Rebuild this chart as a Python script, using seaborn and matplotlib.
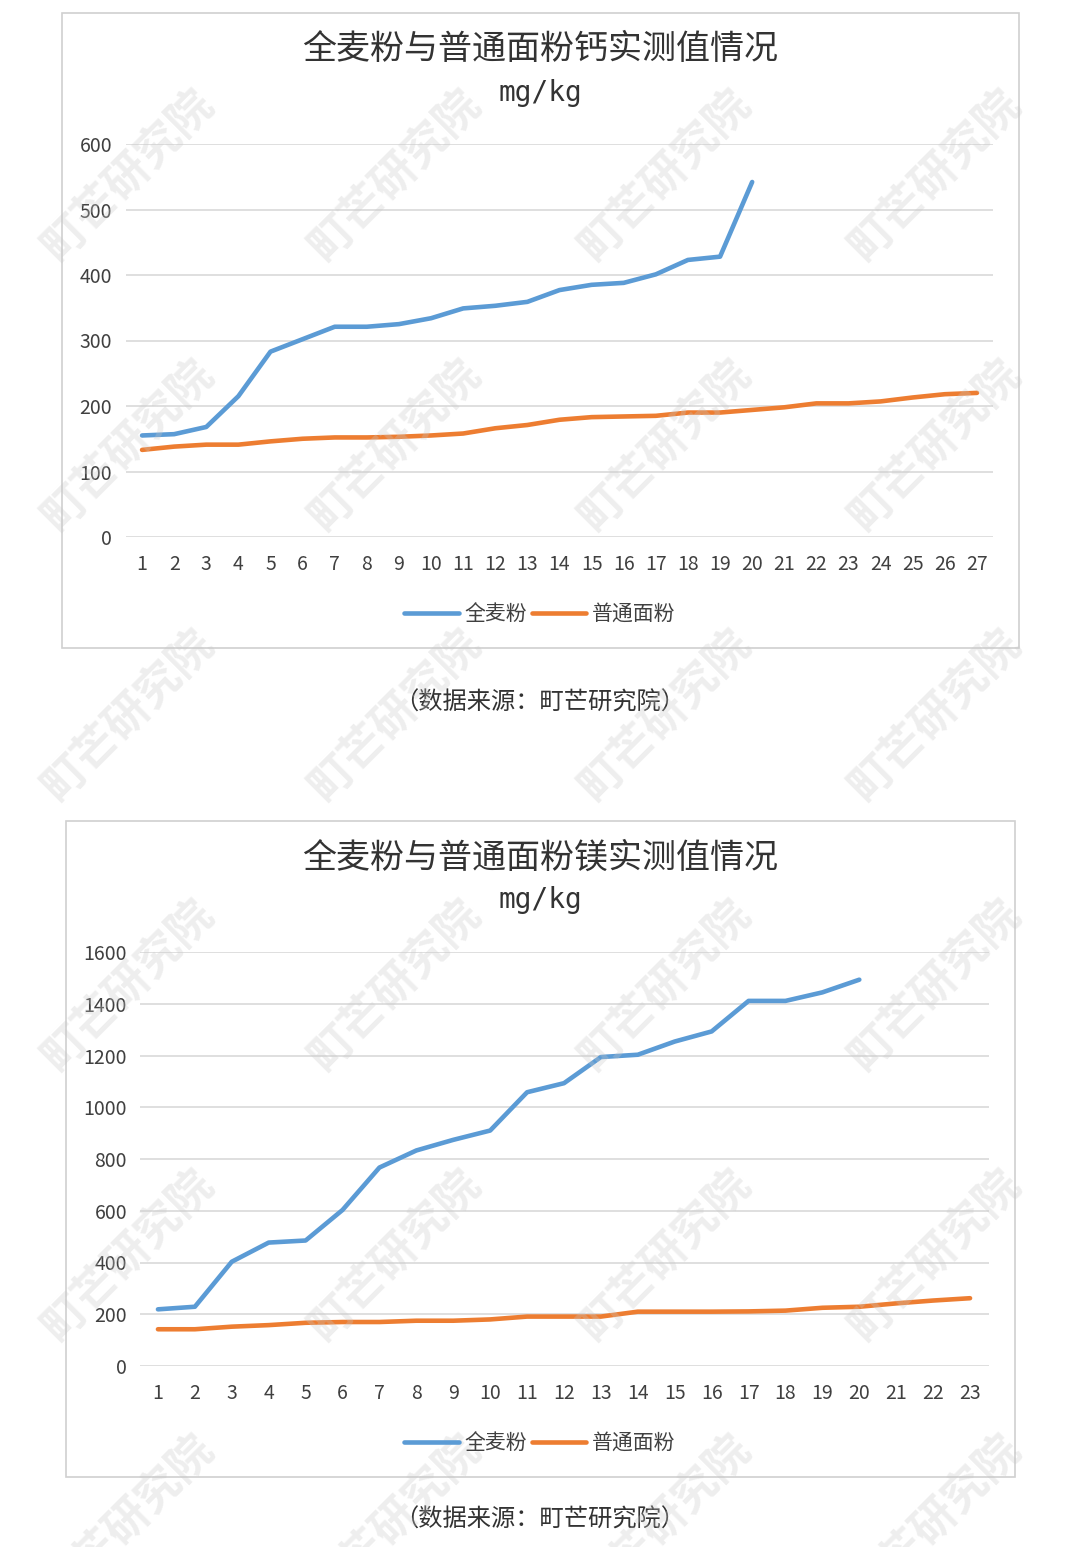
import numpy as np
import pandas as pd
import matplotlib
matplotlib.use("Agg")
import matplotlib.pyplot as plt
import seaborn as sns
from matplotlib.patches import Rectangle

# calcium data (mg/kg)
ca_whole = [155, 157, 168, 215, 283, 302, 321, 321, 325, 334, 349, 353, 359, 377,
            385, 388, 401, 423, 428, 542]
ca_plain = [133, 138, 141, 141, 146, 150, 152, 152, 153, 155, 158, 166, 171, 179,
            183, 184, 185, 190, 190, 194, 198, 204, 204, 207, 213, 218, 220]

# magnesium data (mg/kg)
mg_whole = [219, 229, 403, 477, 485, 603, 767, 833, 874, 910, 1058, 1093, 1194, 1203,
            1254, 1293, 1411, 1411, 1444, 1493]
mg_plain = [142, 142, 152, 158, 167, 170, 170, 175, 175, 180, 191, 191, 191, 210,
            210, 210, 211, 214, 225, 229, 242, 253, 262]

series_names = ["全麦粉", "普通面粉"]
titles = ["全麦粉与普通面粉钙实测值情况", "全麦粉与普通面粉镁实测值情况"]
unit = "mg/kg"
source = "（数据来源：町芒研究院）"
watermark = "町芒研究院"

blue = "#5B9BD5"
orange = "#ED7D31"

sns.set_style("white")
plt.rcParams["font.family"] = ["Noto Sans CJK SC", "DejaVu Sans"]

W, H = 1080, 1547
fig = plt.figure(figsize=(W / 100, H / 100), dpi=100)


def long_df(whole, plain):
    rows = []
    for i, v in enumerate(whole):
        rows.append({"x": i + 1, "val": v, "kind": series_names[0]})
    for i, v in enumerate(plain):
        rows.append({"x": i + 1, "val": v, "kind": series_names[1]})
    return pd.DataFrame(rows)


def px(x0, y0, x1, y1):
    # pixel box (top-left origin) -> figure fraction rect
    return [x0 / W, 1 - y1 / H, (x1 - x0) / W, (y1 - y0) / H]


def draw(box, ax_px, whole, plain, title, ymax, ystep, title_y, unit_y,
         legend_y, source_y, ypad):
    # frame around the chart
    fig.patches.append(Rectangle((box[0] / W, 1 - box[3] / H),
                                 (box[2] - box[0]) / W, (box[3] - box[1]) / H,
                                 transform=fig.transFigure, fill=False,
                                 edgecolor="#d0d0d0", linewidth=1.2))
    ax = fig.add_axes(px(*ax_px))
    df = long_df(whole, plain)
    n = max(len(whole), len(plain))
    sns.lineplot(data=df, x="x", y="val", hue="kind", ax=ax,
                 palette=[blue, orange], linewidth=3.3, legend=False)
    ax.set_xlim(0.5, n + 0.5)
    ax.set_ylim(0, ymax)
    ax.set_xticks(range(1, n + 1))
    ax.set_yticks(np.arange(0, ymax + 1, ystep))
    ax.set_xlabel("")
    ax.set_ylabel("")
    ax.grid(axis="y", color="#d9d9d9", linewidth=1.2)
    ax.grid(axis="x", visible=False)
    for s in ax.spines.values():
        s.set_visible(False)
    ax.tick_params(axis="x", length=0, pad=12, labelsize=14, labelcolor="#404040")
    ax.tick_params(axis="y", length=0, pad=ypad, labelsize=14, labelcolor="#404040")

    fig.text(0.5, 1 - title_y / H, title, ha="center", va="center",
             fontsize=24.5, color="#333333")
    fig.text(0.5, 1 - unit_y / H, unit, ha="center", va="center",
             fontsize=20, color="#333333", family="DejaVu Sans Mono")

    handles = [plt.Line2D([], [], color=blue, linewidth=3.3),
               plt.Line2D([], [], color=orange, linewidth=3.3)]
    fig.legend(handles, series_names, loc="center",
               bbox_to_anchor=(0.5, 1 - legend_y / H), ncol=2, frameon=False,
               fontsize=15, handlelength=2.6, handletextpad=0.3,
               columnspacing=0.2, labelcolor="#404040")
    fig.text(0.5, 1 - source_y / H, source, ha="center", va="center",
             fontsize=17.5, color="#333333")


draw((62, 13, 1019, 648), (126, 144, 993, 537), ca_whole, ca_plain, titles[0],
     600, 100, 50, 93, 614, 703, 10)
draw((66, 821, 1015, 1477), (139.5, 952, 988.5, 1366), mg_whole, mg_plain, titles[1],
     1600, 200, 858, 900, 1443, 1520, 9)

# diagonal watermarks (bottom row is cut by the page edge, as in the source)
for cy in [175, 445, 715, 985, 1255, 1520]:
    for cx in [128, 395, 665, 935]:
        fig.text(cx / W, 1 - cy / H, watermark, ha="center", va="center",
                 rotation=45, fontsize=32, color="#c8c8c8", alpha=0.3,
                 fontweight="bold")

fig.savefig("out.png", dpi=100)
